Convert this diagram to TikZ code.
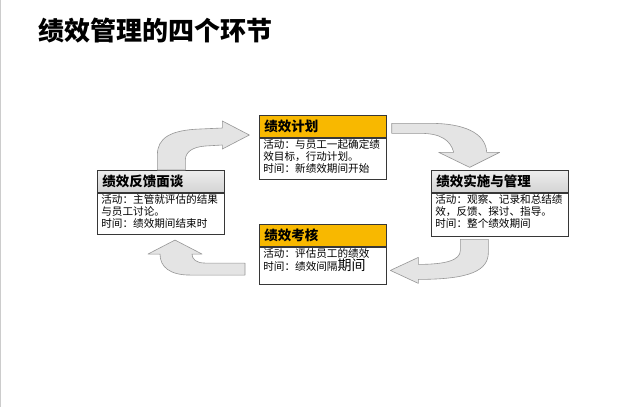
\documentclass[tikz,border=0pt]{standalone}
\usepackage{fontspec}
\newfontfamily\cjk{Noto Sans CJK SC}
\usepackage{tikz}
\usetikzlibrary{positioning}
\definecolor{headyellow}{RGB}{248,184,0}
\definecolor{boxline}{RGB}{55,55,55}
\definecolor{arrowfill}{RGB}{228,228,228}
\definecolor{arrowline}{RGB}{150,150,150}
\tikzset{
    head/.style={
        rectangle,
        draw=boxline,
        line width=0.7,
        anchor=north west,
        minimum height=22,
        inner xsep=5,
        inner ysep=0,
        align=left,
        font=\cjk\bfseries\fontsize{13.5}{14}\selectfont
    },
    grayhead/.style={
        head,
        top color=black!7,
        bottom color=black!17
    },
    body/.style={
        rectangle,
        draw=boxline,
        line width=0.7,
        fill=white,
        inner xsep=4,
        inner ysep=1.5,
        font=\cjk\fontsize{10.6}{11.8}\selectfont
    },
    bigarrow/.style={
        fill=arrowfill,
        draw=arrowline,
        line width=0.6,
        line join=round
    }
}
\newcommand{\bodytext}[3]{\parbox[c][#1pt][t]{#2pt}{#3}}

\begin{document}
\begin{tikzpicture}[x=1pt, y=-1pt]
\useasboundingbox (0,0) rectangle (640,407);
\fill[white] (0,0) rectangle (640,407);
\draw[black!20] (0.5,0) -- (0.5,407);
\node (title) [anchor=west, inner sep=0, font=\cjk\bfseries\fontsize{26}{26}\selectfont] at (38,31) {绩效管理的四个环节};

\node (plan) [head, fill=headyellow, text width=117] at (259,115) {绩效计划};
\node (planbody) [body, below=0pt of plan] {\bodytext{38}{119}{活动：与员工一起确定绩\\效目标，行动计划。\\时间：新绩效期间开始}};
\node (implement) [grayhead, text width=127] at (431,170) {绩效实施与管理};
\node (implementbody) [body, below=0pt of implement] {\bodytext{40}{129}{活动：观察、记录和总结绩\\效，反馈、探讨、指导。\\时间：整个绩效期间}};
\node (review) [head, fill=headyellow, text width=117] at (259,224) {绩效考核};
\node (reviewbody) [body, below=0pt of review] {\bodytext{34}{119}{活动：评估员工的绩效\\时间：绩效间隔{\fontsize{14}{14}\selectfont 期间}}};
\node (feedback) [grayhead, text width=117] at (97,170) {绩效反馈面谈};
\node (feedbackbody) [body, below=0pt of feedback] {\bodytext{38}{119}{活动：主管就评估的结果\\与员工讨论。\\时间：绩效期间结束时}};

\begin{scope}[shift={(feedback.north)}]
\draw [bigarrow] (-3.5,0) -- (-3.5,-15) .. controls (-3.5,-32) and (9.5,-40) .. (39.5,-41) -- (61.5,-42) -- (61.5,-49) -- (88.5,-35) -- (61.5,-21) -- (61.5,-25) -- (44.5,-24) .. controls (31.5,-23) and (24.5,-18) .. (24.5,-10) -- (24.5,0) -- cycle;
\end{scope}
\begin{scope}[shift={(plan.east)}]
\draw [bigarrow] (5,-3) -- (44,-3) .. controls (76,-3) and (99,6) .. (100,26) -- (113,26) -- (83,41) -- (52,26) -- (67,26) .. controls (64,14) and (54,7) .. (34,7) -- (5,7) -- cycle;
\end{scope}
\begin{scope}[shift={(implementbody.south)}]
\draw [bigarrow] (-39.5,3) -- (-39.5,14) .. controls (-39.5,24) and (-54.5,28) .. (-81.5,28) -- (-81.5,21) -- (-109.5,34) -- (-81.5,47) -- (-81.5,43) .. controls (-29.5,43) and (-11.5,34) .. (-11.5,16) -- (-11.5,3) -- cycle;
\end{scope}
\begin{scope}[shift={(reviewbody.west)}]
\draw [bigarrow] (-14,-2.5) -- (-54,-2.5) .. controls (-63,-2.5) and (-67,-6.5) .. (-67,-11.5) -- (-57,-11.5) -- (-84,-25.5) -- (-111,-11.5) -- (-99,-11.5) .. controls (-99,1.5) and (-89,9.5) .. (-69,9.5) -- (-14,9.5) -- cycle;
\end{scope}
\end{tikzpicture}
\end{document}
